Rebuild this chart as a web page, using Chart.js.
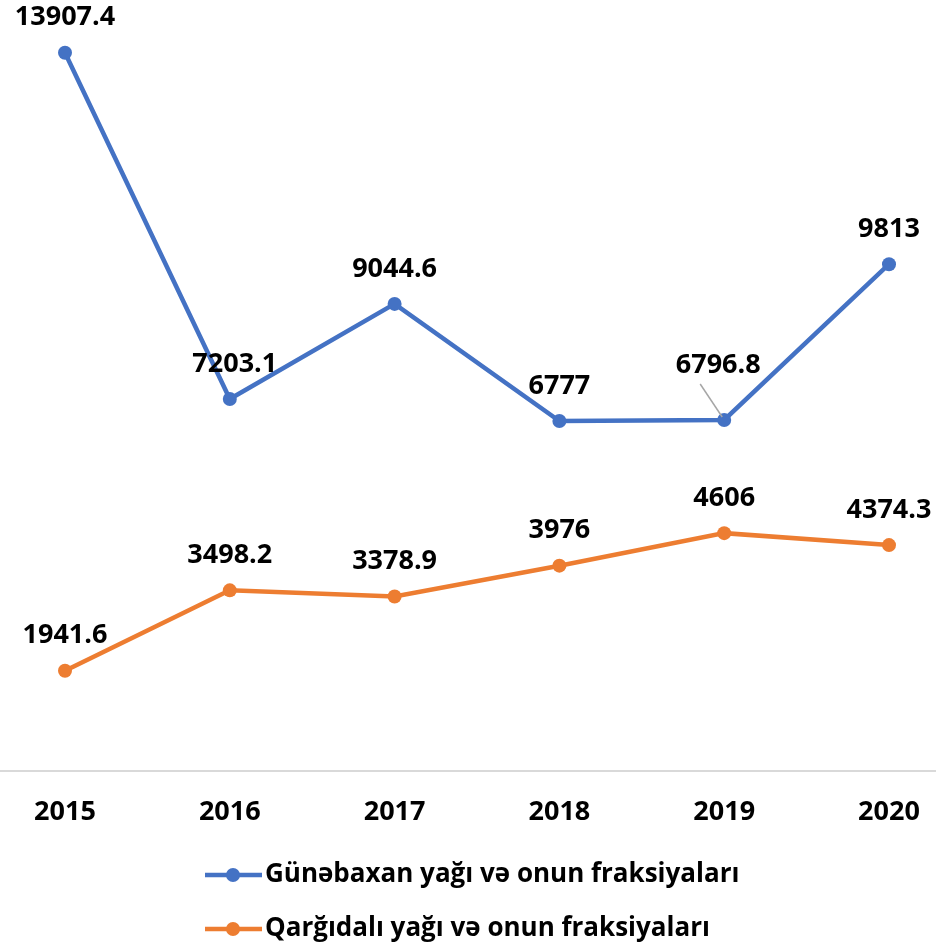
<!DOCTYPE html>
<html>
<head>
<meta charset="utf-8">
<script src="https://cdn.jsdelivr.net/npm/chart.js@4/dist/chart.umd.min.js"></script>
<style>
  html, body { margin: 0; padding: 0; background: #fff; }
  #wrap { width: 936px; height: 949px; position: relative; }
</style>
</head>
<body>
<div id="wrap"><canvas id="grafik"></canvas></div>
<script>
// Illər və seriyalar
const illar = ['2015', '2016', '2017', '2018', '2019', '2020'];
const gunebaxan = [13907.4, 7203.1, 9044.6, 6777, 6796.8, 9813];
const qargidali = [1941.6, 3498.2, 3378.9, 3976, 4606, 4374.3];
const seriyaAdlari = ['Günəbaxan yağı və onun fraksiyaları', 'Qarğıdalı yağı və onun fraksiyaları'];

const SRIFT = '"Open Sans", Lato, sans-serif';
const mavi = '#4472C4';
const narinci = '#ED7D31';

// data etiketleri (2019 mavi etiketi yuxarı çəkilib, xətlə)
const etiketPlugin = {
  id: 'etiketler',
  afterDatasetsDraw(chart) {
    const ctx = chart.ctx;
    ctx.save();
    ctx.font = 'bold 27px ' + SRIFT;
    ctx.fillStyle = '#000';
    ctx.textAlign = 'center';
    ctx.textBaseline = 'middle';
    chart.data.datasets.forEach((ds, i) => {
      chart.getDatasetMeta(i).data.forEach((p, j) => {
        let y = p.y - 35;
        let x = p.x;
        if (i === 0 && j === 1) x = p.x + 5;
        if (i === 0 && j === 4) {
          y = p.y - 55;
          x = p.x - 6;
          ctx.strokeStyle = '#a6a6a6';
          ctx.lineWidth = 1.5;
          ctx.beginPath();
          ctx.moveTo(p.x - 24, p.y - 36);
          ctx.lineTo(p.x - 2, p.y - 3);
          ctx.stroke();
        }
        ctx.fillText(String(ds.data[j]), x, y);
      });
    });
    ctx.restore();
  }
};

// alt xətt və legend
const fonPlugin = {
  id: 'fon',
  beforeDatasetsDraw(chart) {
    const ctx = chart.ctx;
    const y0 = chart.scales.y.getPixelForValue(0);
    ctx.save();
    ctx.strokeStyle = '#d9d9d9';
    ctx.lineWidth = 2;
    ctx.beginPath();
    ctx.moveTo(0, y0);
    ctx.lineTo(chart.width, y0);
    ctx.stroke();
    ctx.restore();
  },
  afterDraw(chart) {
    const ctx = chart.ctx;
    ctx.save();
    chart.data.datasets.forEach((ds, i) => {
      const y = 875 + i * 54;
      ctx.strokeStyle = ds.borderColor;
      ctx.lineWidth = 4.5;
      ctx.beginPath();
      ctx.moveTo(205, y);
      ctx.lineTo(262, y);
      ctx.stroke();
      ctx.fillStyle = ds.borderColor;
      ctx.beginPath();
      ctx.arc(233, y, 7, 0, Math.PI * 2);
      ctx.fill();
      ctx.fillStyle = '#000';
      ctx.font = 'bold 26px ' + SRIFT;
      ctx.textAlign = 'left';
      ctx.textBaseline = 'middle';
      ctx.fillText(ds.label, 265, y);
    });
    ctx.restore();
  }
};

new Chart(document.getElementById('grafik'), {
  type: 'line',
  data: {
    labels: illar,
    datasets: [
      {
        label: seriyaAdlari[0],
        data: gunebaxan,
        borderColor: mavi,
        backgroundColor: mavi,
        borderWidth: 4.5,
        pointRadius: 7,
        pointBackgroundColor: mavi,
        pointBorderWidth: 0,
        tension: 0,
        clip: false
      },
      {
        label: seriyaAdlari[1],
        data: qargidali,
        borderColor: narinci,
        backgroundColor: narinci,
        borderWidth: 4.5,
        pointRadius: 7,
        pointBackgroundColor: narinci,
        pointBorderWidth: 0,
        tension: 0,
        clip: false
      }
    ]
  },
  options: {
    responsive: true,
    maintainAspectRatio: false,
    animation: false,
    layout: { padding: { top: 48, left: 65, right: 47, bottom: 0 } },
    scales: {
      x: {
        offset: false,
        grid: { display: false },
        border: { display: false },
        ticks: {
          color: '#000',
          padding: 17,
          font: { family: SRIFT, size: 27, weight: 'bold' },
          maxRotation: 0,
          autoSkip: false
        },
        afterFit(scale) {
          scale.height = 178;
          scale.paddingLeft = 0;
          scale.paddingRight = 0;
        }
      },
      y: {
        display: false,
        min: 0,
        max: 14000
      }
    },
    plugins: {
      legend: { display: false },
      tooltip: { enabled: false }
    }
  },
  plugins: [fonPlugin, etiketPlugin]
});
</script>
</body>
</html>
